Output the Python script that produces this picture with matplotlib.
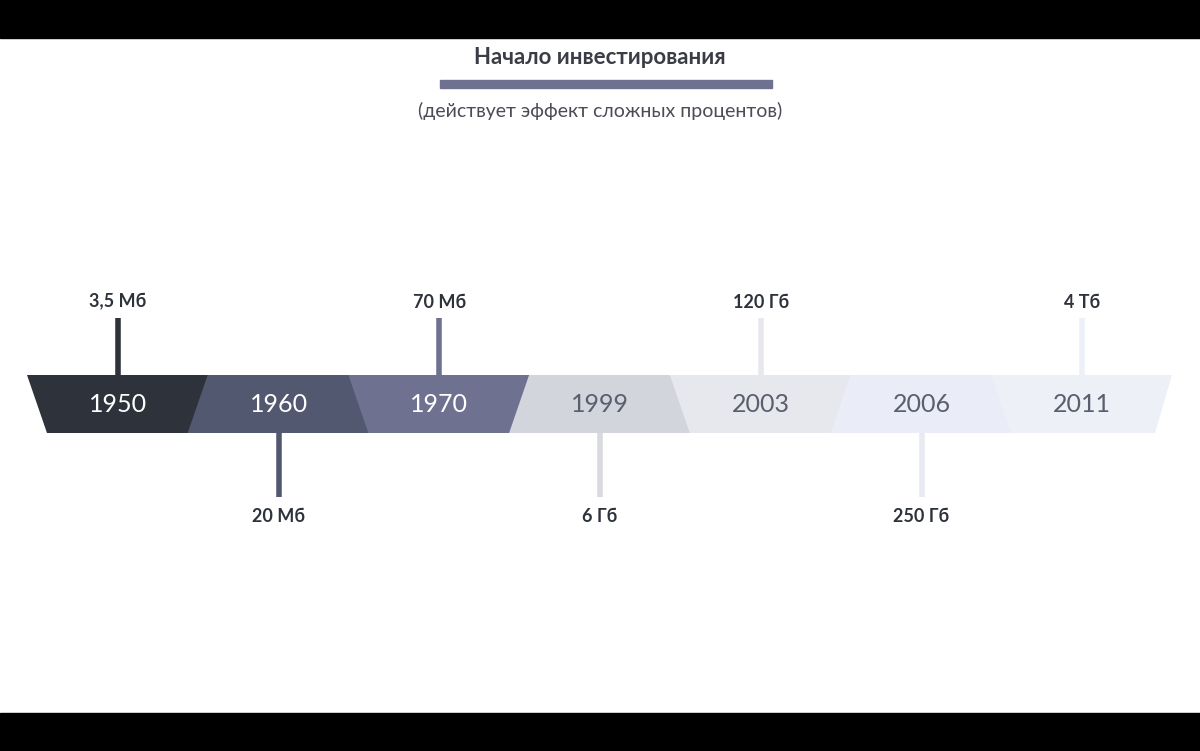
import matplotlib.pyplot as plt
from matplotlib.patches import Polygon, Rectangle

plt.rcParams['font.family'] = 'Lato'

years = ['1950', '1960', '1970', '1999', '2003', '2006', '2011']
sizes = ['3,5 Мб', '20 Мб', '70 Мб', '6 Гб', '120 Гб', '250 Гб', '4 Тб']
seg_colors = ['#2e333b', '#535871', '#6e7190', '#d3d5dc', '#e6e8ed', '#eaedf8', '#edf0f6']
stem_colors = ['#2e333b', '#535871', '#6e7190', '#d8dade', '#e6e8ed', '#e8eaf2', '#edf0f6']
text_colors = ['white', 'white', 'white', '#5a5e6e', '#5a5e6e', '#5a5e6e', '#5a5e6e']

fig = plt.figure(figsize=(12, 7.51), dpi=100)
ax = fig.add_axes([0, 0, 1, 1])
ax.set_xlim(0, 1200)
ax.set_ylim(751, 0)
ax.axis('off')

# letterbox bars
ax.add_patch(Rectangle((0, 0), 1200, 38, color='black'))
ax.add_patch(Rectangle((0, 713), 1200, 38, color='black'))

ax.text(600, 58, 'Начало инвестирования', ha='center', va='center',
        fontsize=16, fontweight='bold', color='#3a3d45')
ax.add_patch(Rectangle((440, 80), 332, 8, color='#6e7190'))
ax.text(600, 111, '(действует эффект сложных процентов)', ha='center', va='center',
        fontsize=14, color='#4a4d55')

top, bot = 375, 433
step = 161.5
x0 = 110
for i, (yr, sz) in enumerate(zip(years, sizes)):
    cx = x0 + i * step + 8 * (i // 1 > 0)
    cx = 118 + i * 160.7
    sl = 10 if i % 2 == 0 else -10  # slant direction alternates
    w = 81
    left_top, left_bot = cx - w - sl, cx - w + sl
    right_top, right_bot = cx + w + sl, cx + w - sl
    if i == 0:
        left_top, left_bot = 27, 47
    if i == len(years) - 1:
        right_top, right_bot = 1172, 1155
    ax.add_patch(Polygon([(left_top, top), (right_top, top), (right_bot, bot), (left_bot, bot)],
                         closed=True, color=seg_colors[i], lw=0))
    ax.text(cx + (0 if i != 0 else 0), 405, yr, ha='center', va='center', fontsize=18,
            color=text_colors[i])
    if i % 2 == 0:
        ax.plot([cx, cx], [318, top], color=stem_colors[i], lw=4, solid_capstyle='butt')
        ax.text(cx, 302, sz, ha='center', va='center', fontsize=13, fontweight='bold', color='#2e333b')
    else:
        ax.plot([cx, cx], [bot, 497], color=stem_colors[i], lw=4, solid_capstyle='butt')
        ax.text(cx, 516, sz, ha='center', va='center', fontsize=13, fontweight='bold', color='#2e333b')

fig.savefig('out.png', dpi=100, facecolor='white')
